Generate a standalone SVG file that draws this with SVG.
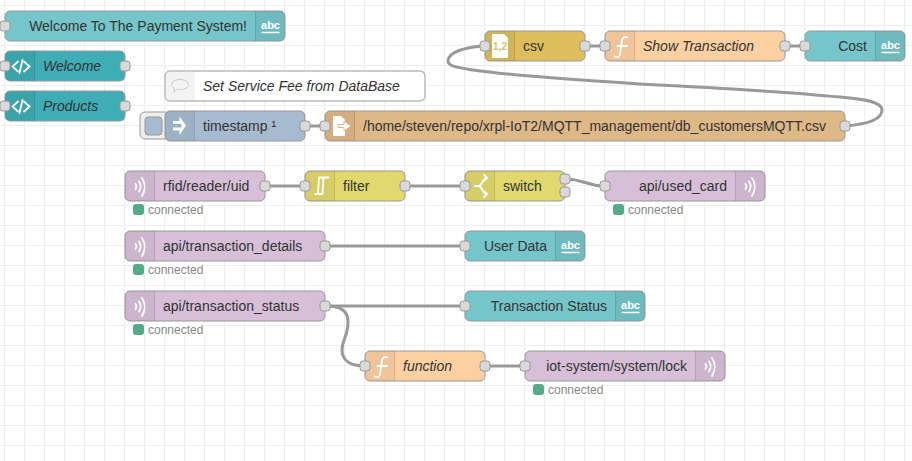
<svg xmlns="http://www.w3.org/2000/svg" xmlns:xlink="http://www.w3.org/1999/xlink" width="912" height="461" viewBox="0 0 912 461">
<style>
text{font-family:"Liberation Sans",Arial,sans-serif;font-size:14px;fill:#333}
.b{stroke:#999;stroke-width:1}
.i{font-style:italic}
.e{text-anchor:end}
.ia{fill:#000;fill-opacity:.05;stroke:none}
.sep{stroke:#000;stroke-opacity:.1;stroke-width:1}
.port{fill:#d9d9d9;stroke:#999;stroke-width:1}
.wire{fill:none;stroke:#999;stroke-width:3}
.st{font-size:12px;fill:#888}
.stbg{fill:#fff}
.dot{fill:#5a8}
.abc{font-size:11px;font-weight:bold;fill:#fff;text-anchor:middle}
.ic{fill:none;stroke:#fff;stroke-width:1.8;stroke-linecap:round}
.teal{fill:#75c5ca}.link{fill:#3fadb5}.fn{fill:#fdd0a2}.mq{fill:#d8bfd8}.file{fill:#deb887}.csv{fill:#debd5c}.sw{fill:#e2d96e}.inj{fill:#a6bbcf}
</style>
<defs>
<pattern id="grid" width="20" height="20" patternUnits="userSpaceOnUse" x="4" y="5">
<path d="M0,.5H20M.5,0V20" stroke="#eee" stroke-width="1" fill="none"/>
</pattern>
<g id="il"><path class="ia" d="M0,5a5,5 0 0 1 5,-5H30V30H5a5,5 0 0 1 -5,-5Z"/><path class="sep" d="M29.500,0V30"/></g>
<g id="ir"><path class="ia" d="M30,5a5,5 0 0 0 -5,-5H0V30H25a5,5 0 0 0 5,-5Z"/><path class="sep" d="M.5,0V30"/></g>
<g id="abc"><use xlink:href="#ir" href="#ir"/><text class="abc" x="15.500" y="18">abc</text><path d="M6.500,21.500H24.500" stroke="#fff" stroke-width="1.500"/></g>
<g id="wave"><path class="ic" d="M10.500,13C11.500,14.300 11.500,16.700 10.500,18M14,10.500C16,13.500 16,17.500 14,20.500M17,7C20.500,12 20.500,19 17,25"/></g>
<g id="fnc"><path class="ic" d="M22.500,6.500C18,5 17,8 16.500,12L15,23C14.500,26.500 12,26.500 9.500,25.500M12.500,15H22"/></g>
<g id="code"><path class="ic" d="M13,10.500L7.500,15.500L13,20.500M19,10.500L24.500,15.500L19,20.500M17.500,9L14.500,22"/></g>
</defs>
<rect width="912" height="461" fill="#fff"/>
<rect width="912" height="461" fill="url(#grid)"/>

<g id="connectors">
<path class="wire" d="M845,126C870,124 882,119 882,110C882,102 865,99 840,97C780,91 700,87 640,84C560,79 500,74 473,70C455,67 448,66 448,61C448,52 465,47 485,46"/>
<path class="wire" d="M585,46H605"/>
<path class="wire" d="M785,46H805"/>
<path class="wire" d="M305,126H325"/>
<path class="wire" d="M265,186H305"/>
<path class="wire" d="M405,186H465"/>
<path class="wire" d="M565,179C585,179 585,186 605,186"/>
<path class="wire" d="M325,246H465"/>
<path class="wire" d="M325,306H465"/>
<path class="wire" d="M325,306C340,306 348,310 348,322C348,336 342,340 342,350C342,360 350,366 365,366"/>
<path class="wire" d="M485,366H525"/>
</g>

<g id="n-welcome-text"><rect class="teal b" x="5" y="11" width="280" height="30" rx="5"/><use xlink:href="#abc" href="#abc" x="255" y="11"/><text class="e" x="247" y="31">Welcome To The Payment System!</text><rect class="port" x="0" y="21" width="10" height="10" rx="3"/></g>

<g id="n-welcome"><rect class="link b" x="5" y="51" width="120" height="30" rx="5"/><use xlink:href="#il" href="#il" x="5" y="51"/><use xlink:href="#code" href="#code" x="5" y="51"/><text class="i" x="43" y="71">Welcome</text><rect class="port" x="0" y="61" width="10" height="10" rx="3"/><rect class="port" x="120" y="61" width="10" height="10" rx="3"/></g>

<g id="n-products"><rect class="link b" x="5" y="91" width="120" height="30" rx="5"/><use xlink:href="#il" href="#il" x="5" y="91"/><use xlink:href="#code" href="#code" x="5" y="91"/><text class="i" x="43" y="111">Products</text><rect class="port" x="0" y="101" width="10" height="10" rx="3"/><rect class="port" x="120" y="101" width="10" height="10" rx="3"/></g>

<g id="n-comment"><rect x="165" y="71" width="260" height="30" rx="5" fill="#fff" stroke="#bbb" stroke-width="1.500"/><path d="M166,76a4,4 0 0 1 4,-4H195V100H170a4,4 0 0 1 -4,-4Z" fill="#f3f3f3"/><path d="M180,79.500c5,0 8.500,2.200 8.500,5s-3.500,5 -8.500,5c-1,0 -2,0 -3,-.3l-3,3 .3,-4c-1.700,-1 -2.800,-2.300 -2.800,-3.700c0,-2.800 3.500,-5 8.500,-5Z" fill="none" stroke="#ccc" stroke-width="1"/><text class="i" x="203" y="91">Set Service Fee from DataBase</text></g>

<g id="n-timestamp"><rect x="140" y="112" width="30" height="27" rx="5" fill="#eee" stroke="#999"/><rect class="inj" x="145" y="117" width="17" height="18" rx="3" stroke="#999"/><rect class="inj b" x="165" y="111" width="140" height="30" rx="5"/><use xlink:href="#il" href="#il" x="165" y="111"/><path d="M173,121H179.500V116.500L186,125.500L179.500,135V130.500H173V127.500H181.500V124H173Z" fill="#fff"/><text x="203" y="131">timestamp ¹</text><rect class="port" x="300" y="121" width="10" height="10" rx="3"/></g>

<g id="n-file"><rect class="file b" x="325" y="111" width="520" height="30" rx="5"/><use xlink:href="#il" href="#il" x="325" y="111"/><path d="M333,116H341L345,120V136H333Z" fill="#fff"/><path d="M338,124.500H344V121L351,126L344,131V127.500H338Z" fill="#fff" stroke="#deb887" stroke-width="1"/><text x="363" y="131">/home/steven/repo/xrpl-IoT2/MQTT_management/db_customersMQTT.csv</text><rect class="port" x="320" y="121" width="10" height="10" rx="3"/><rect class="port" x="840" y="121" width="10" height="10" rx="3"/></g>

<g id="n-csv"><rect class="csv b" x="485" y="31" width="100" height="30" rx="5"/><use xlink:href="#il" href="#il" x="485" y="31"/><path d="M492,34H504L508,38V58H492Z" fill="#fff"/><text x="500" y="49.500" style="font-size:10px;font-weight:bold;fill:#debd5c;text-anchor:middle">1,2</text><text x="523" y="51">csv</text><rect class="port" x="480" y="41" width="10" height="10" rx="3"/><rect class="port" x="580" y="41" width="10" height="10" rx="3"/></g>

<g id="n-show"><rect class="fn b" x="605" y="31" width="180" height="30" rx="5"/><use xlink:href="#il" href="#il" x="605" y="31"/><use xlink:href="#fnc" href="#fnc" x="605" y="31"/><text class="i" x="643" y="51">Show Transaction</text><rect class="port" x="600" y="41" width="10" height="10" rx="3"/><rect class="port" x="780" y="41" width="10" height="10" rx="3"/></g>

<g id="n-cost"><rect class="teal b" x="805" y="31" width="100" height="30" rx="5"/><use xlink:href="#abc" href="#abc" x="875" y="31"/><text class="e" x="867" y="51">Cost</text><rect class="port" x="800" y="41" width="10" height="10" rx="3"/></g>

<g id="n-rfid"><rect class="mq b" x="125" y="171" width="140" height="30" rx="5"/><use xlink:href="#il" href="#il" x="125" y="171"/><use xlink:href="#wave" href="#wave" x="125" y="171"/><text x="163" y="191">rfid/reader/uid</text><rect class="port" x="260" y="181" width="10" height="10" rx="3"/><rect class="dot" x="133" y="204" width="11" height="11" rx="3"/><rect class="stbg" x="146" y="203" width="59" height="14"/><text class="st" x="148" y="214">connected</text></g>

<g id="n-filter"><rect class="sw b" x="305" y="171" width="100" height="30" rx="5"/><use xlink:href="#il" href="#il" x="305" y="171"/><path class="ic" d="M319,177.500H328.500M319,177.500L318,194M315,194H322M323.500,177.500L322.500,194"/><text x="343" y="191">filter</text><rect class="port" x="300" y="181" width="10" height="10" rx="3"/><rect class="port" x="400" y="181" width="10" height="10" rx="3"/></g>

<g id="n-switch"><rect class="sw b" x="465" y="171" width="100" height="30" rx="5"/><use xlink:href="#il" href="#il" x="465" y="171"/><path class="ic" d="M475,186H479C482,186 482,179 486,178M479,186C482,186 482,193 486,194M484,175L487,178L484,181M484,191L487,194L484,197"/><text x="503" y="191">switch</text><rect class="port" x="460" y="181" width="10" height="10" rx="3"/><rect class="port" x="560" y="174" width="10" height="10" rx="3"/><rect class="port" x="560" y="187" width="10" height="10" rx="3"/></g>

<g id="n-used-card"><rect class="mq b" x="605" y="171" width="160" height="30" rx="5"/><use xlink:href="#ir" href="#ir" x="735" y="171"/><use xlink:href="#wave" href="#wave" x="735" y="171"/><text class="e" x="727" y="191">api/used_card</text><rect class="port" x="600" y="181" width="10" height="10" rx="3"/><rect class="dot" x="613" y="204" width="11" height="11" rx="3"/><rect class="stbg" x="626" y="203" width="59" height="14"/><text class="st" x="628" y="214">connected</text></g>

<g id="n-details"><rect class="mq b" x="125" y="231" width="200" height="30" rx="5"/><use xlink:href="#il" href="#il" x="125" y="231"/><use xlink:href="#wave" href="#wave" x="125" y="231"/><text x="163" y="251">api/transaction_details</text><rect class="port" x="320" y="241" width="10" height="10" rx="3"/><rect class="dot" x="133" y="264" width="11" height="11" rx="3"/><rect class="stbg" x="146" y="263" width="59" height="14"/><text class="st" x="148" y="274">connected</text></g>

<g id="n-user-data"><rect class="teal b" x="465" y="231" width="120" height="30" rx="5"/><use xlink:href="#abc" href="#abc" x="555" y="231"/><text class="e" x="547" y="251">User Data</text><rect class="port" x="460" y="241" width="10" height="10" rx="3"/></g>

<g id="n-status"><rect class="mq b" x="125" y="291" width="200" height="30" rx="5"/><use xlink:href="#il" href="#il" x="125" y="291"/><use xlink:href="#wave" href="#wave" x="125" y="291"/><text x="163" y="311">api/transaction_status</text><rect class="port" x="320" y="301" width="10" height="10" rx="3"/><rect class="dot" x="133" y="324" width="11" height="11" rx="3"/><rect class="stbg" x="146" y="323" width="59" height="14"/><text class="st" x="148" y="334">connected</text></g>

<g id="n-tx-status"><rect class="teal b" x="465" y="291" width="180" height="30" rx="5"/><use xlink:href="#abc" href="#abc" x="615" y="291"/><text class="e" x="607" y="311">Transaction Status</text><rect class="port" x="460" y="301" width="10" height="10" rx="3"/></g>

<g id="n-function"><rect class="fn b" x="365" y="351" width="120" height="30" rx="5"/><use xlink:href="#il" href="#il" x="365" y="351"/><use xlink:href="#fnc" href="#fnc" x="365" y="351"/><text class="i" x="403" y="371">function</text><rect class="port" x="360" y="361" width="10" height="10" rx="3"/><rect class="port" x="480" y="361" width="10" height="10" rx="3"/></g>

<g id="n-lock"><rect class="mq b" x="525" y="351" width="200" height="30" rx="5"/><use xlink:href="#ir" href="#ir" x="695" y="351"/><use xlink:href="#wave" href="#wave" x="695" y="351"/><text class="e" x="687" y="371">iot-system/system/lock</text><rect class="port" x="520" y="361" width="10" height="10" rx="3"/><rect class="dot" x="533" y="384" width="11" height="11" rx="3"/><rect class="stbg" x="546" y="383" width="59" height="14"/><text class="st" x="548" y="394">connected</text></g>
</svg>
